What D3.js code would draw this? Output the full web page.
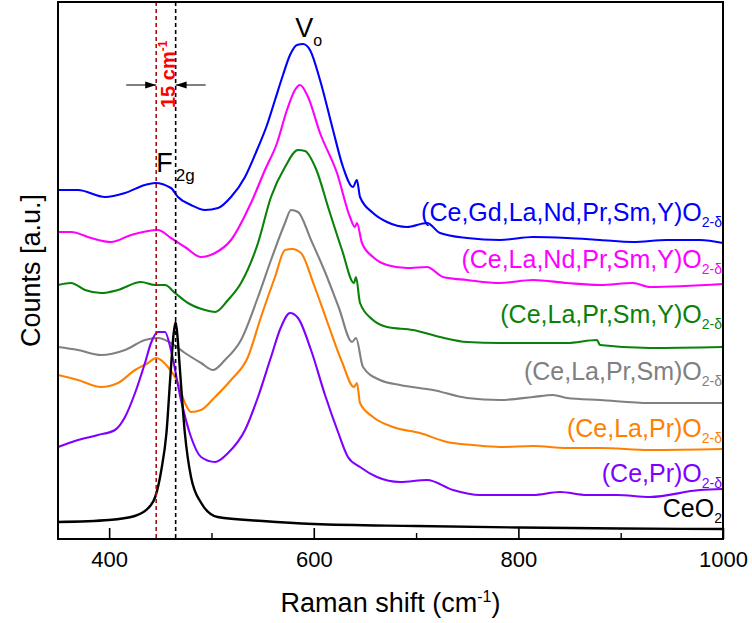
<!DOCTYPE html>
<html>
<head>
<meta charset="utf-8">
<script src="https://cdn.jsdelivr.net/npm/d3@7/dist/d3.min.js"></script>
<style>
  html, body { margin: 0; padding: 0; background: #fff; }
  svg { display: block; font-family: "Liberation Sans", Arial, sans-serif; }
</style>
</head>
<body>
<svg id="chart" width="752" height="623"></svg>
<script>
// ---- Data (Raman shift in cm^-1, counts in arbitrary units, offset stacked) ----
const xTicksMajor = [400, 600, 800, 1000];
const xTicksMinor = [500, 700, 900];

const seriesNames = [
  "(Ce,Gd,La,Nd,Pr,Sm,Y)O", "(Ce,La,Nd,Pr,Sm,Y)O", "(Ce,La,Pr,Sm,Y)O",
  "(Ce,La,Pr,Sm)O", "(Ce,La,Pr)O", "(Ce,Pr)O", "CeO"
];
const seriesSubs = ["2-δ", "2-δ", "2-δ", "2-δ", "2-δ", "2-δ", "2"];
const seriesColors = ["#0000ff", "#ff00ff", "#0a820a", "#808080", "#ff8000", "#8000ff", "#000000"];
const labelLevels = [318, 271, 216, 159, 102, 57, 22];

const blue = [[350,349],[369.5,349],[396,342],[415.5,346],[435,354],[444.8,356],[460.4,351],[467.3,342],[480,334],[493.7,329],[506.4,331],[519.1,342],[532.8,362],[544.5,389],[554.3,414],[562.1,439],[569.9,464],[576.8,484],[583.6,494],[589.5,495],[596.3,489],[606.1,459],[618.8,409],[628.6,372],[638.3,352],[642.2,359],[645.2,342],[657.9,326],[671.6,317],[691.1,312],[710.7,316],[723.4,306],[749.8,301],[782,299],[814.3,302],[847.5,301],[879.8,299],[912,297],[945.2,299],[977.5,299],[1000,296]];
const magenta = [[350,307],[362.7,307],[382.3,301],[401.8,297],[421.4,304],[447.7,309],[460.4,301],[474.1,292],[489.8,282],[503.5,286],[519.1,299],[538.6,336],[552.3,369],[564.1,396],[573.8,429],[581.6,449],[586.5,454],[594.4,442],[606.1,406],[622.7,366],[635.4,322],[640.3,312],[642.2,316],[647.1,296],[657.9,282],[671.6,274],[691.1,271],[710.7,272],[726.3,262],[749.8,259],[782,256],[814.3,259],[847.5,256],[879.8,254],[912,256],[928.6,252],[1000,255]];
const green = [[350,254],[362.7,256],[376.4,249],[392,246],[408.6,249],[431.1,257],[444.8,254],[454.6,254],[464.4,246],[477.1,236],[493.7,229],[503.5,227],[516.2,239],[528.9,256],[545.5,296],[558.2,342],[571.9,372],[584.6,389],[591.4,388],[602.2,370],[614.9,329],[627.6,289],[639.3,256],[641.3,262],[645.2,236],[657.9,219],[671.6,212],[697,209],[723.4,202],[749.8,197],[782,196],[814.3,196],[847.5,196],[876.8,199],[879.8,194],[928.6,191],[1000,192]];
const gray = [[350,192],[369.5,189],[392,184],[415.5,189],[435,199],[447.7,201],[460.4,196],[474.1,186],[489.8,176],[501.5,169],[513.2,179],[528.9,199],[545.5,242],[558.2,279],[571.9,316],[577.7,329],[584.6,327],[597.3,299],[611,267],[624.6,231],[637.4,197],[641.3,201],[648.1,172],[664.7,159],[684.3,154],[716.5,149],[749.8,141],[782,139],[814.3,142],[833.8,144],[847.5,141],[879.8,139],[928.6,136],[1000,136]];
const orange = [[350,164],[369.5,159],[392,152],[408.6,156],[425.3,169],[438,176],[445.8,181],[457.5,172],[467.3,156],[474.1,136],[480,127],[489.8,129],[503.5,142],[519.1,159],[535.7,182],[548.4,222],[562.1,262],[571.9,289],[578.7,290],[587.5,286],[600.2,254],[612.9,218],[627.6,177],[639.3,152],[642.2,156],[645.2,136],[657.9,122],[677.4,112],[703.8,106],[730.2,97],[755.6,94],[782,92],[814.3,93],[847.5,91],[879.8,91],[928.6,89],[1000,90]];
const purple = [[350,92],[369.5,99],[389.1,104],[405.7,109],[415.5,122],[425.3,146],[435,176],[440.9,196],[447.7,207],[454.6,207],[460.4,189],[470.2,139],[480,102],[489.8,82],[503.5,77],[516.2,86],[532.8,109],[545.5,142],[558.2,182],[568,212],[576.8,226],[584.6,221],[597.3,189],[611,144],[623.7,107],[633.4,82],[645.2,72],[661.8,62],[684.3,57],[710.7,59],[736.1,49],[762.5,44],[814.3,44],[840.7,47],[867,44],[896.4,44],[928.6,42],[977.5,49],[1000,50]];
const ceo2 = [[350,17],[400,19],[425,23],[440,33],[445,42],[451,69],[456,106],[460,165],[463,205],[465,217],[467,200],[469,172],[474,106],[480,62],[490,36],[506,22],[550,18],[600,15],[700,13],[800,11.5],[900,10.5],[1000,10]];
const allSeries = [blue, magenta, green, gray, orange, purple, ceo2];

const f2gShift = 465;      // CeO2 F2g position
const shiftedF2g = 446;    // shifted F2g position
const shiftLabel = "15 cm";

// ---- Scales ----
const svg = d3.select("#chart");
const x = d3.scaleLinear().domain([350, 1000]).range([58, 723]);
const y = d3.scaleLinear().domain([0, 537]).range([539, 2]);

// ---- Curves ----
const line = d3.line().x(d => x(d[0])).y(d => y(d[1])).curve(d3.curveMonotoneX);
allSeries.forEach((s, i) => {
  svg.append("path").datum(s)
    .attr("d", line)
    .attr("fill", "none")
    .attr("stroke", seriesColors[i])
    .attr("stroke-width", i === 6 ? 2.4 : 2.1)
    .attr("stroke-linejoin", "round");
});

// ---- Dashed reference lines ----
[[shiftedF2g, "#a80f0f"], [f2gShift, "#000"]].forEach(([v, c]) => {
  svg.append("line")
    .attr("x1", x(v)).attr("x2", x(v))
    .attr("y1", y(537)).attr("y2", y(0))
    .attr("stroke", c).attr("stroke-width", 1.6)
    .attr("stroke-dasharray", "4,3");
});

// ---- Arrows ----
const ay = y(454);
function arrow(x0, x1) {
  svg.append("line").attr("x1", x0).attr("x2", x1).attr("y1", ay).attr("y2", ay)
    .attr("stroke", "#000").attr("stroke-width", 1);
  const dir = Math.sign(x1 - x0);
  svg.append("path")
    .attr("d", `M${x1},${ay} L${x1 - dir * 11},${ay - 3.5} L${x1 - dir * 11},${ay + 3.5} Z`)
    .attr("fill", "#000");
}
arrow(x(shiftedF2g) - 30, x(shiftedF2g));
arrow(x(f2gShift) + 30, x(f2gShift));

// rotated shift label
const sl = svg.append("text")
  .attr("transform", `translate(${x(f2gShift) - 1},${y(431)}) rotate(-90)`)
  .attr("fill", "#ff0000").attr("font-weight", "bold").attr("font-size", 20);
sl.append("tspan").text(shiftLabel);
sl.append("tspan").attr("dy", -8).attr("font-size", 12).text("-1");

// ---- Peak labels ----
const f = svg.append("text").attr("x", x(446)).attr("y", y(367)).attr("font-size", 27).attr("fill", "#000");
f.append("tspan").text("F");
f.append("tspan").attr("dy", 9).attr("dx", 3).attr("font-size", 17).text("2g");

const v = svg.append("text").attr("x", x(582)).attr("y", y(502)).attr("font-size", 27).attr("fill", "#000");
v.append("tspan").text("V");
v.append("tspan").attr("dy", 9).attr("font-size", 16).text("o");

// ---- Series labels ----
seriesNames.forEach((n, i) => {
  const t = svg.append("text")
    .attr("x", x(1000) - 1).attr("y", y(labelLevels[i]))
    .attr("text-anchor", "end").attr("font-size", 25).attr("fill", seriesColors[i]);
  t.append("tspan").text(n);
  t.append("tspan").attr("dy", 6).attr("font-size", 14).text(seriesSubs[i]);
});

// ---- Axes ----
const gx = svg.append("g").attr("transform", `translate(0,${y(0)})`)
  .call(d3.axisBottom(x).tickValues(xTicksMajor).tickSize(-11).tickPadding(12).tickFormat(d3.format("d")));
gx.select(".domain").remove();
gx.selectAll(".tick line").attr("stroke", "#000").attr("stroke-width", 1.6);
gx.selectAll(".tick text").attr("font-size", 22).attr("fill", "#000")
  .attr("font-family", "'Liberation Sans', Arial, sans-serif");

const gm = svg.append("g").attr("transform", `translate(0,${y(0)})`)
  .call(d3.axisBottom(x).tickValues(xTicksMinor).tickSize(-6).tickFormat(""));
gm.select(".domain").remove();
gm.selectAll(".tick line").attr("stroke", "#000").attr("stroke-width", 1.4);

// frame
svg.append("rect")
  .attr("x", x(350)).attr("y", y(537))
  .attr("width", x(1000) - x(350)).attr("height", y(0) - y(537))
  .attr("fill", "none").attr("stroke", "#000").attr("stroke-width", 2);

// axis titles
const xt = svg.append("text").attr("x", (x(350) + x(1000)) / 2).attr("y", 612)
  .attr("text-anchor", "middle").attr("font-size", 27).attr("fill", "#000");
xt.append("tspan").text("Raman shift (cm");
xt.append("tspan").attr("dy", -10).attr("font-size", 16).text("-1");
xt.append("tspan").attr("dy", 10).text(")");

svg.append("text")
  .attr("transform", `translate(40,${(y(0) + y(537)) / 2}) rotate(-90)`)
  .attr("text-anchor", "middle").attr("font-size", 27).attr("fill", "#000")
  .text("Counts [a.u.]");
</script>
</body>
</html>
